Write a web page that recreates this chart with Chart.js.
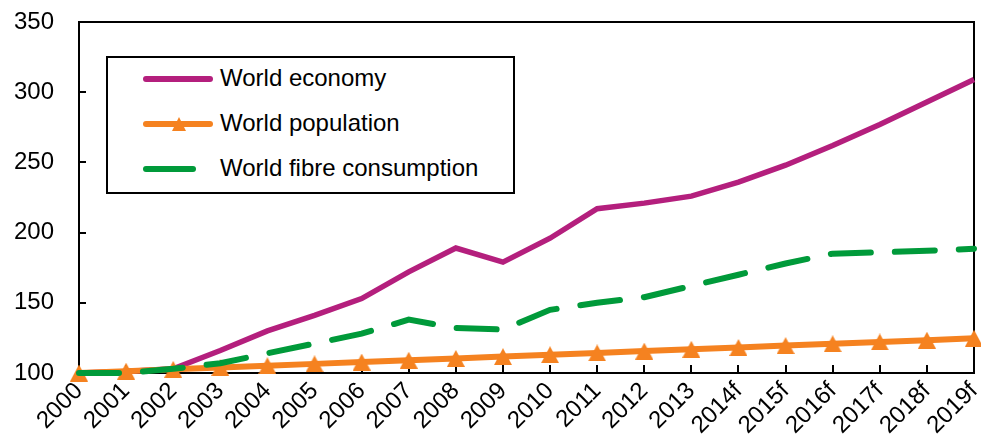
<!DOCTYPE html>
<html lang="en">
<head>
    <meta charset="UTF-8">
    <title>World economy, population and fibre consumption</title>
    <script src="https://cdn.jsdelivr.net/npm/chart.js"></script>
    <style>
        body {
            margin: 0;
            background: #ffffff;
            font-family: 'Liberation Sans', Arial, sans-serif;
        }
        .wrap {
            position: relative;
            width: 981px;
            height: 443px;
        }
        .legend {
            position: absolute;
            left: 106px;
            top: 56px;
            width: 405px;
            height: 134px;
            border: 2px solid #000;
            background: #fff;
        }
        .item {
            position: absolute;
            left: 0;
            height: 30px;
            width: 100%;
        }
        .item .swatch {
            position: absolute;
            left: 35px;
            top: 12px;
            width: 70px;
            height: 6px;
            border-radius: 3px;
        }
        .item .tri {
            position: absolute;
            left: 64px;
            top: 8px;
            width: 0;
            height: 0;
            border-left: 7px solid transparent;
            border-right: 7px solid transparent;
            border-bottom: 14px solid #F58220;
        }
        .item .label {
            position: absolute;
            left: 112px;
            top: 0px;
            font-size: 24px;
            color: #000;
            white-space: nowrap;
        }
    </style>
</head>
<body>
    <div class="wrap">
        <canvas id="chart"></canvas>
        <div class="legend">
            <div class="item" style="top: 6px;">
                <div class="swatch" style="background:#B41F7D;"></div>
                <div class="label">World economy</div>
            </div>
            <div class="item" style="top: 51px;">
                <div class="swatch" style="background:#F58220;"></div>
                <div class="tri"></div>
                <div class="label">World population</div>
            </div>
            <div class="item" style="top: 96px;">
                <div class="swatch" style="background:#009A3A; width:53px;"></div>
                <div class="label">World fibre consumption</div>
            </div>
        </div>
    </div>

    <script>
        // Categorias (anos, "f" = previsão)
        const years = ['2000', '2001', '2002', '2003', '2004', '2005', '2006', '2007', '2008', '2009',
                       '2010', '2011', '2012', '2013', '2014f', '2015f', '2016f', '2017f', '2018f', '2019f'];

        // Índices (2000 = 100)
        const economy = [100, 101, 103, 116, 130, 141, 153, 172, 189, 179,
                         196, 217, 221, 226, 236, 248, 262, 277, 293, 309];
        const population = [100, 101.3, 102.6, 103.9, 105.2, 106.5, 107.8, 109.1, 110.4, 111.7,
                            113, 114.3, 115.6, 116.9, 118.2, 119.5, 120.8, 122.1, 123.4, 124.8];
        const fibre = [100, 100, 103, 107, 114, 121, 128, 138, 132, 131,
                       145, 150, 154, 162, 170, 178, 185, 186, 187, 188.5];

        const yTicks = [100, 150, 200, 250, 300, 350];

        const font = { family: "'Liberation Sans', Arial, sans-serif", size: 24 };

        // Marcador triangular centrado no ponto (como no Excel)
        const triangle = document.createElement('canvas');
        triangle.width = 18;
        triangle.height = 17;
        const tctx = triangle.getContext('2d');
        tctx.fillStyle = '#F58220';
        tctx.beginPath();
        tctx.moveTo(9, 0);
        tctx.lineTo(18, 17);
        tctx.lineTo(0, 17);
        tctx.closePath();
        tctx.fill();

        // Moldura do gráfico e marcas dos eixos para dentro
        const framePlugin = {
            id: 'frame',
            beforeDatasetsDraw(chart) {
                const ctx = chart.ctx;
                const a = chart.chartArea;
                const x = chart.scales.x;
                const y = chart.scales.y;
                ctx.save();
                ctx.strokeStyle = '#000';
                ctx.lineWidth = 2;
                ctx.strokeRect(a.left, a.top, a.right - a.left, a.bottom - a.top);
                ctx.beginPath();
                yTicks.forEach(v => {
                    const py = Math.round(y.getPixelForValue(v));
                    ctx.moveTo(a.left, py);
                    ctx.lineTo(a.left + 7, py);
                });
                years.forEach((_, i) => {
                    const px = Math.round(x.getPixelForValue(i));
                    ctx.moveTo(px, a.bottom);
                    ctx.lineTo(px, a.bottom - 8);
                });
                ctx.stroke();
                ctx.restore();
            }
        };

        const chart = new Chart(
            document.getElementById('chart'),
            {
                type: 'line',
                data: {
                    labels: years,
                    datasets: [
                        {
                            label: 'World economy',
                            data: economy,
                            borderColor: '#B41F7D',
                            borderWidth: 5.5,
                            pointRadius: 0,
                            tension: 0,
                            clip: false,
                            order: 2
                        },
                        {
                            label: 'World population',
                            data: population,
                            borderColor: '#F58220',
                            backgroundColor: '#F58220',
                            borderWidth: 6,
                            pointStyle: triangle,
                            pointRadius: 9,
                            tension: 0,
                            clip: false,
                            order: 1
                        },
                        {
                            label: 'World fibre consumption',
                            data: fibre,
                            borderColor: '#009A3A',
                            borderWidth: 6,
                            borderDash: [40, 24],
                            borderCapStyle: 'round',
                            pointRadius: 0,
                            tension: 0,
                            clip: false,
                            order: 0
                        }
                    ]
                },
                options: {
                    responsive: true,
                    maintainAspectRatio: false,
                    animation: false,
                    layout: {
                        autoPadding: false,
                        padding: { top: 22, right: 7, left: 0, bottom: 0 }
                    },
                    plugins: {
                        legend: { display: false },
                        tooltip: { enabled: false }
                    },
                    scales: {
                        x: {
                            offset: false,
                            grid: { display: false, drawTicks: false },
                            border: { display: false },
                            ticks: {
                                color: '#000',
                                font: font,
                                minRotation: 45,
                                maxRotation: 45,
                                autoSkip: false,
                                padding: 4
                            },
                            afterFit(scale) {
                                scale.height = 70;
                                scale.paddingLeft = 0;
                                scale.paddingRight = 0;
                            }
                        },
                        y: {
                            min: 100,
                            max: 350,
                            afterBuildTicks(scale) {
                                scale.ticks = yTicks.map(v => ({ value: v }));
                            },
                            grid: { display: false, drawTicks: false },
                            border: { display: false },
                            ticks: {
                                color: '#000',
                                font: font,
                                padding: 25
                            },
                            afterFit(scale) {
                                scale.width = 79;
                                scale.paddingTop = 0;
                                scale.paddingBottom = 0;
                            }
                        }
                    }
                },
                plugins: [framePlugin]
            }
        );
    </script>
</body>
</html>
